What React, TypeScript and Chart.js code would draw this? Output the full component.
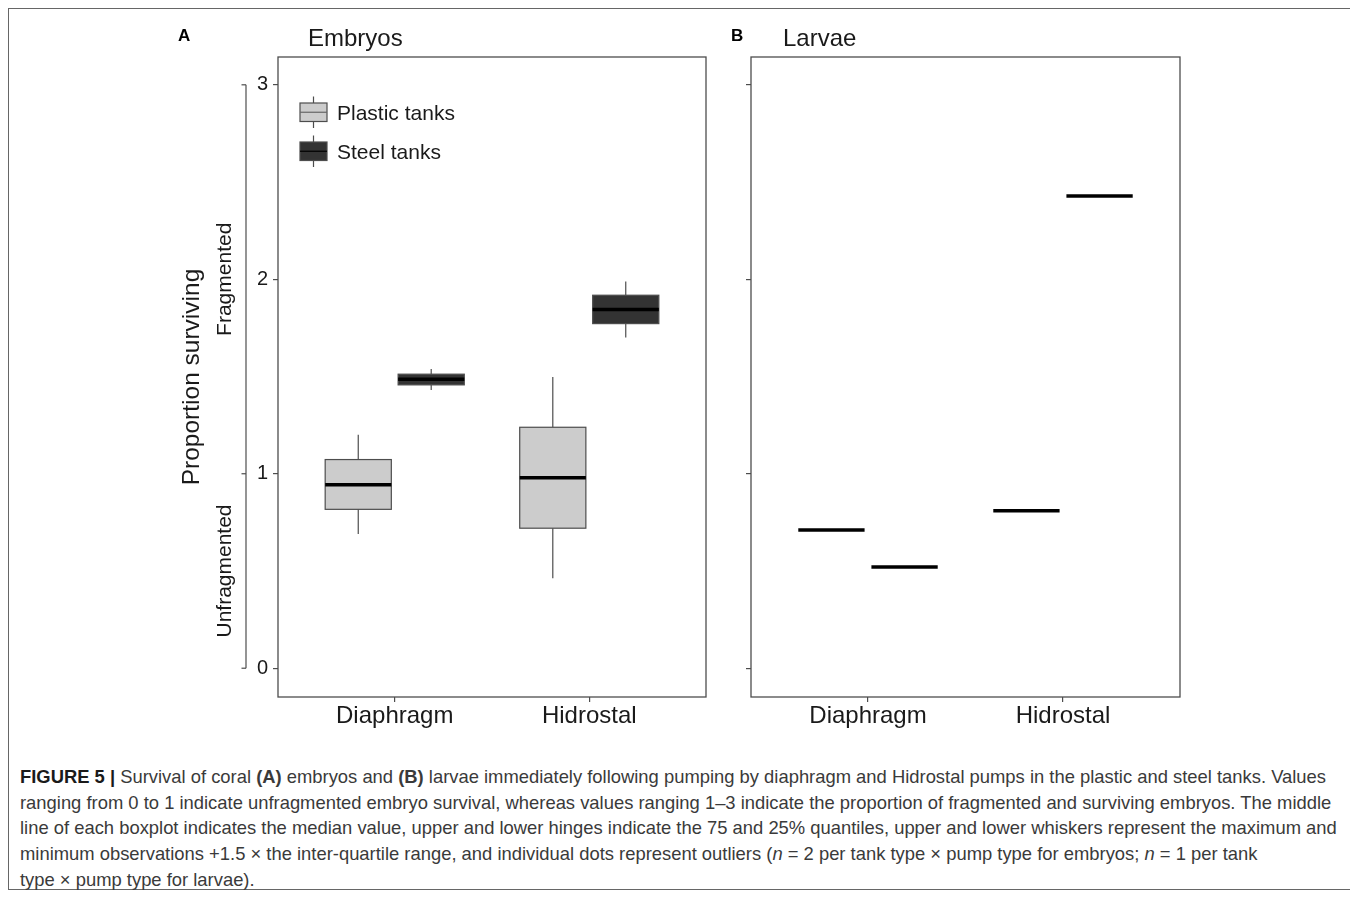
import React, { useEffect, useRef } from 'react';
import { Chart, registerables } from 'chart.js';

Chart.register(...registerables);

// ---------- data ----------
const categories = ['Diaphragm', 'Hidrostal'];
const tankTypes = ['Plastic tanks', 'Steel tanks'];
const yTickValues = [0, 1, 2, 3];

// Embryos (panel A) five-number summaries, per pump type
const plasticMin = [0.69, 0.463];
const plasticQ1 = [0.817, 0.72];
const plasticMedian = [0.944, 0.98];
const plasticQ3 = [1.073, 1.239];
const plasticMax = [1.2, 1.498];

const steelMin = [1.431, 1.7];
const steelQ1 = [1.457, 1.772];
const steelMedian = [1.486, 1.844];
const steelQ3 = [1.512, 1.918];
const steelMax = [1.539, 1.988];

// Larvae (panel B), n = 1 per group
const larvaePlastic = [0.711, 0.81];
const larvaeSteel = [0.521, 2.428];

// ---------- styling ----------
const FONT = '"Liberation Sans", Arial, Helvetica, sans-serif';
const TEXT = '#1a1a1a';
const LINE = '#4d4d4d';
const PLASTIC_FILL = '#cccccc';
const STEEL_FILL = '#333333';
const DODGE = 0.1875;
const HALF_W = 0.17;

function makeScales(showYLabels: boolean, yWidth: number) {
  return {
    x: {
      type: 'linear',
      min: 0.4,
      max: 2.6,
      afterBuildTicks: (s: any) => {
        s.ticks = categories.map((_, i) => ({ value: i + 1 }));
      },
      afterFit: (s: any) => {
        s.height = 43;
      },
      ticks: {
        autoSkip: false,
        maxRotation: 0,
        padding: 0,
        color: TEXT,
        font: { family: FONT, size: 24 },
        callback: (v: any) => categories[Math.round(Number(v)) - 1] ?? '',
      },
      grid: { drawOnChartArea: false, drawTicks: true, tickLength: 5, color: LINE, lineWidth: 1.2 },
      border: { display: false },
    },
    y: {
      type: 'linear',
      min: -0.148,
      max: 3.143,
      afterBuildTicks: (s: any) => {
        s.ticks = yTickValues.map((v) => ({ value: v }));
      },
      afterFit: (s: any) => {
        s.width = yWidth;
      },
      ticks: {
        autoSkip: false,
        padding: 5,
        color: TEXT,
        font: { family: FONT, size: 20 },
        callback: (v: any) => (showYLabels ? String(v) : ''),
      },
      grid: { drawOnChartArea: false, drawTicks: true, tickLength: 5, color: LINE, lineWidth: 1.2 },
      border: { display: false },
    },
  };
}

function line(ctx: CanvasRenderingContext2D, x1: number, y1: number, x2: number, y2: number) {
  ctx.beginPath();
  ctx.moveTo(x1, y1);
  ctx.lineTo(x2, y2);
  ctx.stroke();
}

function drawFrame(chart: any) {
  const { ctx, chartArea: a } = chart;
  ctx.save();
  ctx.strokeStyle = LINE;
  ctx.lineWidth = 1.3;
  ctx.strokeRect(a.left, a.top, a.right - a.left, a.bottom - a.top);
  ctx.restore();
}

function drawBox(chart: any, cx: number, mn: number, q1: number, md: number, q3: number, mx: number, fill: string) {
  const { ctx } = chart;
  const xs = chart.scales.x;
  const ys = chart.scales.y;
  const l = xs.getPixelForValue(cx - HALF_W);
  const r = xs.getPixelForValue(cx + HALF_W);
  const c = xs.getPixelForValue(cx);
  const pMin = ys.getPixelForValue(mn);
  const pQ1 = ys.getPixelForValue(q1);
  const pMd = ys.getPixelForValue(md);
  const pQ3 = ys.getPixelForValue(q3);
  const pMax = ys.getPixelForValue(mx);
  ctx.save();
  ctx.strokeStyle = LINE;
  ctx.lineWidth = 1.2;
  line(ctx, c, pMax, c, pQ3);
  line(ctx, c, pQ1, c, pMin);
  ctx.fillStyle = fill;
  ctx.fillRect(l, pQ3, r - l, pQ1 - pQ3);
  ctx.strokeRect(l, pQ3, r - l, pQ1 - pQ3);
  ctx.strokeStyle = '#000';
  ctx.lineWidth = 3.5;
  line(ctx, l, pMd, r, pMd);
  ctx.restore();
}

const embryoPlugin = {
  id: 'embryoBoxes',
  afterDraw(chart: any) {
    const { ctx, chartArea: a } = chart;
    const ys = chart.scales.y;
    drawFrame(chart);
    categories.forEach((_, i) => {
      drawBox(chart, i + 1 - DODGE, plasticMin[i], plasticQ1[i], plasticMedian[i], plasticQ3[i], plasticMax[i], PLASTIC_FILL);
      drawBox(chart, i + 1 + DODGE, steelMin[i], steelQ1[i], steelMedian[i], steelQ3[i], steelMax[i], STEEL_FILL);
    });

    // legend
    ctx.save();
    const keys = [
      { label: tankTypes[0], fill: PLASTIC_FILL, mid: '#666666', top: 46 },
      { label: tankTypes[1], fill: STEEL_FILL, mid: '#000000', top: 85 },
    ];
    keys.forEach((k) => {
      const kl = a.left + 22;
      const kw = 27;
      const kh = 18.5;
      const kt = a.top + k.top;
      const kc = kl + kw / 2;
      ctx.strokeStyle = LINE;
      ctx.lineWidth = 1.2;
      line(ctx, kc, kt - 6.5, kc, kt + kh + 6.5);
      ctx.fillStyle = k.fill;
      ctx.fillRect(kl, kt, kw, kh);
      ctx.strokeRect(kl, kt, kw, kh);
      ctx.strokeStyle = k.mid;
      ctx.lineWidth = 1.2;
      line(ctx, kl, kt + kh / 2, kl + kw, kt + kh / 2);
      ctx.fillStyle = TEXT;
      ctx.font = `21px ${FONT}`;
      ctx.textAlign = 'left';
      ctx.textBaseline = 'alphabetic';
      ctx.fillText(k.label, a.left + 59, kt + 16.5);
    });

    // bracket on the left with group labels
    const bx = a.left - 32;
    const y0 = ys.getPixelForValue(0);
    const y1 = ys.getPixelForValue(1);
    const y3 = ys.getPixelForValue(3);
    ctx.strokeStyle = LINE;
    ctx.lineWidth = 1.2;
    line(ctx, bx, y0, bx, y3);
    [y0, y1, y3].forEach((yy) => line(ctx, bx - 4.5, yy, bx, yy));

    ctx.fillStyle = TEXT;
    ctx.textAlign = 'center';
    ctx.textBaseline = 'middle';
    const drawRot = (text: string, x: number, y: number, font: string) => {
      ctx.save();
      ctx.translate(x, y);
      ctx.rotate(-Math.PI / 2);
      ctx.font = font;
      ctx.fillText(text, 0, 0);
      ctx.restore();
    };
    drawRot('Unfragmented', a.left - 53, ys.getPixelForValue(0.5), `21px ${FONT}`);
    drawRot('Fragmented', a.left - 53, ys.getPixelForValue(2), `21px ${FONT}`);
    drawRot('Proportion surviving', a.left - 86, (a.top + a.bottom) / 2, `24.5px ${FONT}`);
    ctx.restore();
  },
};

const larvaePlugin = {
  id: 'larvaeLines',
  afterDraw(chart: any) {
    const { ctx } = chart;
    const xs = chart.scales.x;
    const ys = chart.scales.y;
    drawFrame(chart);
    ctx.save();
    ctx.strokeStyle = '#000';
    ctx.lineWidth = 3.5;
    categories.forEach((_, i) => {
      [
        { cx: i + 1 - DODGE, v: larvaePlastic[i] },
        { cx: i + 1 + DODGE, v: larvaeSteel[i] },
      ].forEach((g) => {
        const py = ys.getPixelForValue(g.v);
        line(ctx, xs.getPixelForValue(g.cx - HALF_W), py, xs.getPixelForValue(g.cx + HALF_W), py);
      });
    });
    ctx.restore();
  },
};

function makeConfig(datasets: any[], plugin: any, showYLabels: boolean, yWidth: number, padRight: number) {
  return {
    type: 'scatter',
    data: { datasets },
    options: {
      animation: false,
      responsive: false,
      maintainAspectRatio: false,
      layout: { padding: { left: 0, top: 30, right: padRight, bottom: 0 } },
      plugins: { legend: { display: false }, tooltip: { enabled: false }, title: { display: false } },
      scales: makeScales(showYLabels, yWidth),
      events: [],
    },
    plugins: [plugin],
  };
}

export default function App() {
  const refA = useRef<HTMLCanvasElement>(null);
  const refB = useRef<HTMLCanvasElement>(null);

  useEffect(() => {
    const dsA = [
      {
        label: tankTypes[0],
        data: categories.map((_, i) => ({ x: i + 1 - DODGE, y: plasticMedian[i] })),
        pointRadius: 0,
        showLine: false,
      },
      {
        label: tankTypes[1],
        data: categories.map((_, i) => ({ x: i + 1 + DODGE, y: steelMedian[i] })),
        pointRadius: 0,
        showLine: false,
      },
    ];
    const dsB = [
      {
        label: tankTypes[0],
        data: categories.map((_, i) => ({ x: i + 1 - DODGE, y: larvaePlastic[i] })),
        pointRadius: 0,
        showLine: false,
      },
      {
        label: tankTypes[1],
        data: categories.map((_, i) => ({ x: i + 1 + DODGE, y: larvaeSteel[i] })),
        pointRadius: 0,
        showLine: false,
      },
    ];
    const a = new Chart(refA.current as any, makeConfig(dsA, embryoPlugin, true, 128, 14) as any);
    const b = new Chart(refB.current as any, makeConfig(dsB, larvaePlugin, false, 31, 20) as any);
    return () => {
      a.destroy();
      b.destroy();
    };
  }, []);

  const cap: React.CSSProperties = {
    position: 'absolute',
    left: 12,
    whiteSpace: 'nowrap',
    fontFamily: FONT,
    fontSize: 18.4,
    lineHeight: '25.7px',
    color: '#3a3a3a',
  };
  const capTop = 756;
  const lh = 25.7;

  return (
    <div style={{ position: 'relative', width: 1344, height: 882, fontFamily: FONT }}>
      <div
        style={{
          position: 'absolute',
          left: 0,
          top: 0,
          width: 1344,
          height: 882,
          border: '1px solid #666',
          boxSizing: 'border-box',
        }}
      />
      <canvas ref={refA} width={570} height={713} style={{ position: 'absolute', left: 142, top: 19 }} />
      <canvas ref={refB} width={480} height={713} style={{ position: 'absolute', left: 712, top: 19 }} />

      <div style={{ position: 'absolute', left: 170, top: 19.3, fontSize: 17, lineHeight: '17px', fontWeight: 'bold', color: '#000' }}>A</div>
      <div style={{ position: 'absolute', left: 300, top: 18.4, fontSize: 24, lineHeight: '24px', color: TEXT }}>Embryos</div>
      <div style={{ position: 'absolute', left: 723, top: 19.3, fontSize: 17, lineHeight: '17px', fontWeight: 'bold', color: '#000' }}>B</div>
      <div style={{ position: 'absolute', left: 775, top: 18.4, fontSize: 24, lineHeight: '24px', color: TEXT }}>Larvae</div>

      <div style={{ ...cap, top: capTop }}>
        <b style={{ color: '#1a1a1a' }}>FIGURE 5 |</b> Survival of coral <b>(A)</b> embryos and <b>(B)</b> larvae immediately following pumping by diaphragm and Hidrostal pumps in the plastic and steel tanks. Values
      </div>
      <div style={{ ...cap, top: capTop + lh }}>
        ranging from 0 to 1 indicate unfragmented embryo survival, whereas values ranging 1–3 indicate the proportion of fragmented and surviving embryos. The middle
      </div>
      <div style={{ ...cap, top: capTop + lh * 2 }}>
        line of each boxplot indicates the median value, upper and lower hinges indicate the 75 and 25% quantiles, upper and lower whiskers represent the maximum and
      </div>
      <div style={{ ...cap, top: capTop + lh * 3 }}>
        minimum observations +1.5 × the inter-quartile range, and individual dots represent outliers (<i>n</i> = 2 per tank type × pump type for embryos; <i>n</i> = 1 per tank
      </div>
      <div style={{ ...cap, top: capTop + lh * 4 }}>type × pump type for larvae).</div>
    </div>
  );
}
